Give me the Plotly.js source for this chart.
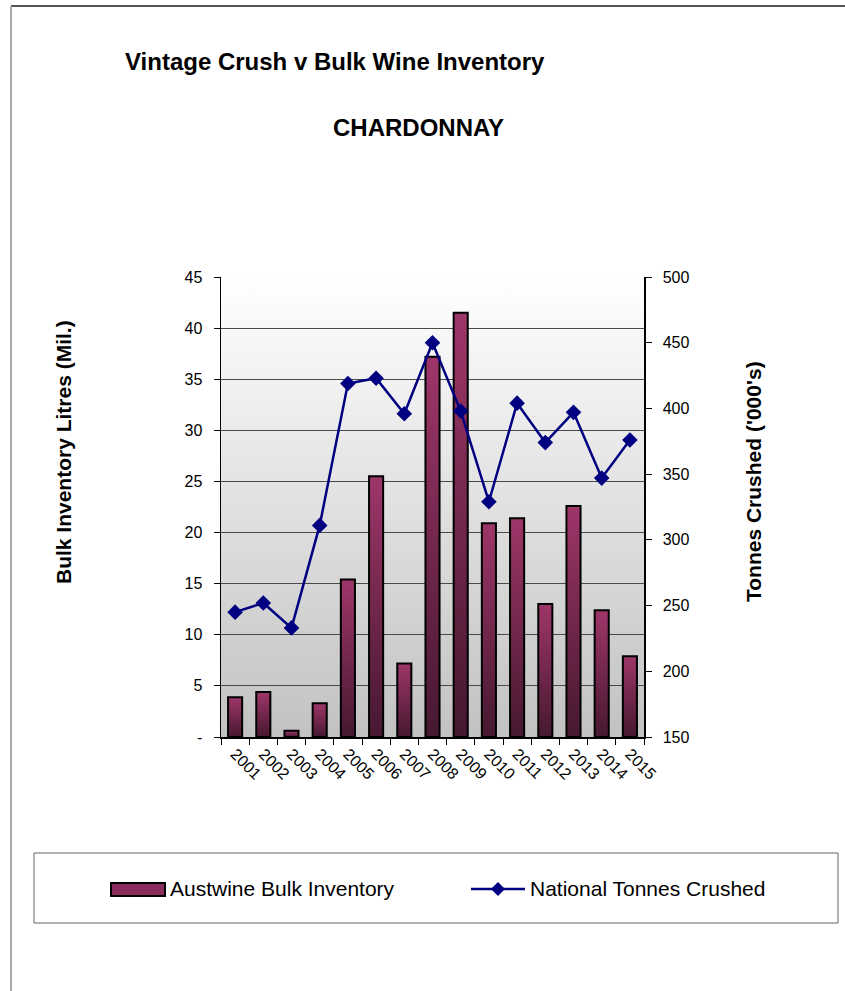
<!DOCTYPE html>
<html>
<head>
<meta charset="utf-8">
<script src="https://cdn.plot.ly/plotly-3.0.1.min.js"></script>
<style>
  html, body { margin: 0; padding: 0; background: #ffffff; }
  #chart { width: 845px; height: 991px; }
</style>
</head>
<body>
<div id="chart"></div>
<script>
// Vintages on the category axis
const years = ['2001', '2002', '2003', '2004', '2005', '2006', '2007', '2008',
               '2009', '2010', '2011', '2012', '2013', '2014', '2015'];

// Austwine bulk inventory, millions of litres (left axis)
const bulkInventory = [3.9, 4.4, 0.6, 3.3, 15.4, 25.5, 7.2, 37.2,
                       41.5, 20.9, 21.4, 13.0, 22.6, 12.4, 7.9];

// National tonnes crushed, thousands of tonnes (right axis)
const tonnesCrushed = [245, 252, 233, 311, 419, 423, 396, 450,
                       398, 329, 404, 374, 397, 347, 376];

// Left axis ticks (zero shown as a dash, accounting style)
const leftTickVals = [0, 5, 10, 15, 20, 25, 30, 35, 40, 45];
const leftTickText = ['-', '5', '10', '15', '20', '25', '30', '35', '40', '45'];

// Right axis ticks
const rightTickVals = [150, 200, 250, 300, 350, 400, 450, 500];

const seriesNames = ['Austwine Bulk Inventory', 'National Tonnes Crushed'];
const axisTitles = ['Bulk Inventory Litres (Mil.)', "Tonnes Crushed ('000's)"];

const FONT = 'Arial, "Liberation Sans", sans-serif';
const BAR_COLOR = '#8b2d5c';
const LINE_COLOR = '#000080';

// Plot area in pixels: x 221..644, y 277..737
const W = 845, H = 991;
const PL = 221, PR = 644, PT = 277, PB = 737;
const px = x => (x - PL) / (PR - PL);
const py = y => (PB - y) / (PB - PT);

const bgGradient =
  '<svg xmlns="http://www.w3.org/2000/svg" width="10" height="100" preserveAspectRatio="none">' +
  '<defs><linearGradient id="g" x1="0" y1="0" x2="0" y2="1">' +
  '<stop offset="0" stop-color="#ffffff"/><stop offset="1" stop-color="#c2c2c2"/>' +
  '</linearGradient></defs><rect width="10" height="100" fill="url(#g)"/></svg>';

const traces = [
  {
    type: 'bar',
    name: seriesNames[0],
    x: years,
    y: bulkInventory,
    yaxis: 'y',
    width: 0.5,
    marker: { color: BAR_COLOR, line: { color: '#000000', width: 2 } },
    showlegend: false,
    hoverinfo: 'x+y'
  },
  {
    type: 'scatter',
    mode: 'lines+markers',
    name: seriesNames[1],
    x: years,
    y: tonnesCrushed,
    yaxis: 'y2',
    line: { color: LINE_COLOR, width: 2.5 },
    marker: { symbol: 'diamond', size: 12, color: LINE_COLOR },
    showlegend: false,
    hoverinfo: 'x+y'
  }
];

const layout = {
  width: W,
  height: H,
  margin: { l: PL, r: W - PR, t: PT, b: H - PB, pad: 0 },
  paper_bgcolor: '#ffffff',
  plot_bgcolor: 'rgba(0,0,0,0)',
  font: { family: FONT, color: '#000000', size: 16 },
  showlegend: false,
  title: {
    text: 'Vintage Crush v Bulk Wine Inventory',
    font: { family: FONT, size: 24, weight: 'bold', color: '#000000' },
    xref: 'container', yref: 'container',
    x: 125 / W, xanchor: 'left',
    y: 1 - 62 / H, yanchor: 'middle'
  },
  xaxis: {
    type: 'category',
    range: [-0.5, years.length - 0.5],
    tickangle: 45,
    tickson: 'boundaries',
    ticks: 'outside',
    ticklen: 6,
    tickcolor: '#000000',
    showline: true,
    linecolor: '#000000',
    linewidth: 1.5,
    showgrid: false,
    tickfont: { family: FONT, size: 16 },
    fixedrange: true
  },
  yaxis: {
    range: [0, 45],
    tickvals: leftTickVals,
    ticktext: leftTickText,
    ticks: 'outside',
    ticklen: 6,
    tickcolor: '#000000',
    ticklabelstandoff: 8,
    showline: true,
    linecolor: '#000000',
    linewidth: 1.5,
    showgrid: true,
    gridcolor: '#4a4a4a',
    gridwidth: 1,
    zeroline: false,
    tickfont: { family: FONT, size: 16 },
    fixedrange: true
  },
  yaxis2: {
    overlaying: 'y',
    side: 'right',
    range: [150, 500],
    tickvals: rightTickVals,
    ticks: 'outside',
    ticklen: 6,
    tickcolor: '#000000',
    ticklabelstandoff: 8,
    showline: true,
    linecolor: '#000000',
    linewidth: 1.5,
    showgrid: false,
    zeroline: false,
    tickfont: { family: FONT, size: 16 },
    fixedrange: true
  },
  images: [{
    source: 'data:image/svg+xml;charset=utf-8,' + encodeURIComponent(bgGradient),
    xref: 'paper', yref: 'paper',
    x: 0, y: 1, sizex: 1, sizey: 1,
    xanchor: 'left', yanchor: 'top',
    sizing: 'stretch',
    layer: 'below'
  }],
  shapes: [
    // outer frame: top and left edges
    { type: 'line', xref: 'paper', yref: 'paper',
      x0: px(11), x1: px(860), y0: py(6), y1: py(6),
      line: { color: '#555555', width: 2 } },
    { type: 'line', xref: 'paper', yref: 'paper',
      x0: px(11), x1: px(11), y0: py(6), y1: py(1000),
      line: { color: '#a8a8a8', width: 2 } },
    // legend box
    { type: 'rect', xref: 'paper', yref: 'paper',
      x0: px(34), x1: px(838), y0: py(923), y1: py(853),
      line: { color: '#666666', width: 1 }, fillcolor: 'rgba(0,0,0,0)' },
    // legend key: bar
    { type: 'rect', xref: 'paper', yref: 'paper',
      x0: px(111), x1: px(165), y0: py(896), y1: py(883),
      line: { color: '#000000', width: 2 }, fillcolor: BAR_COLOR },
    // legend key: line with diamond
    { type: 'line', xref: 'paper', yref: 'paper',
      x0: px(471), x1: px(525), y0: py(889), y1: py(889),
      line: { color: LINE_COLOR, width: 2.5 } },
    { type: 'path', xref: 'paper', yref: 'paper',
      xsizemode: 'pixel', ysizemode: 'pixel',
      xanchor: px(498), yanchor: py(889),
      path: 'M0,-7 L7,0 L0,7 L-7,0 Z',
      fillcolor: LINE_COLOR, line: { color: LINE_COLOR, width: 0 } }
  ],
  annotations: [
    { text: 'CHARDONNAY', xref: 'paper', yref: 'paper',
      x: px(418), y: py(127), xanchor: 'center', yanchor: 'middle',
      showarrow: false,
      font: { family: FONT, size: 24, weight: 'bold', color: '#000000' } },
    // axis titles
    { text: axisTitles[0], xref: 'paper', yref: 'paper',
      x: px(63), y: py(452), xanchor: 'center', yanchor: 'middle',
      textangle: -90, showarrow: false,
      font: { family: FONT, size: 21, weight: 'bold', color: '#000000' } },
    { text: axisTitles[1], xref: 'paper', yref: 'paper',
      x: px(753), y: py(482), xanchor: 'center', yanchor: 'middle',
      textangle: -90, showarrow: false,
      font: { family: FONT, size: 21, weight: 'bold', color: '#000000' } },
    // legend labels
    { text: seriesNames[0], xref: 'paper', yref: 'paper',
      x: px(168), y: py(889), xanchor: 'left', yanchor: 'middle',
      showarrow: false, font: { family: FONT, size: 21, color: '#000000' } },
    { text: seriesNames[1], xref: 'paper', yref: 'paper',
      x: px(528), y: py(889), xanchor: 'left', yanchor: 'middle',
      showarrow: false, font: { family: FONT, size: 21, color: '#000000' } }
  ]
};

Plotly.newPlot('chart', traces, layout, { displayModeBar: false, staticPlot: true })
  .then(function (gd) {
    // Shade each bar from a light top to a dark base
    const ns = 'http://www.w3.org/2000/svg';
    const svg = gd.querySelector('svg.main-svg');
    let defs = svg.querySelector('defs');
    if (!defs) { defs = document.createElementNS(ns, 'defs'); svg.insertBefore(defs, svg.firstChild); }
    const grad = document.createElementNS(ns, 'linearGradient');
    grad.setAttribute('id', 'barShade');
    grad.setAttribute('x1', '0'); grad.setAttribute('y1', '0');
    grad.setAttribute('x2', '0'); grad.setAttribute('y2', '1');
    [['0', '#9e3669'], ['1', '#461830']].forEach(function (s) {
      const stop = document.createElementNS(ns, 'stop');
      stop.setAttribute('offset', s[0]);
      stop.setAttribute('stop-color', s[1]);
      grad.appendChild(stop);
    });
    defs.appendChild(grad);
    gd.querySelectorAll('.barlayer .point path').forEach(function (p) {
      p.style.fill = 'url(#barShade)';
    });
  });
</script>
</body>
</html>
